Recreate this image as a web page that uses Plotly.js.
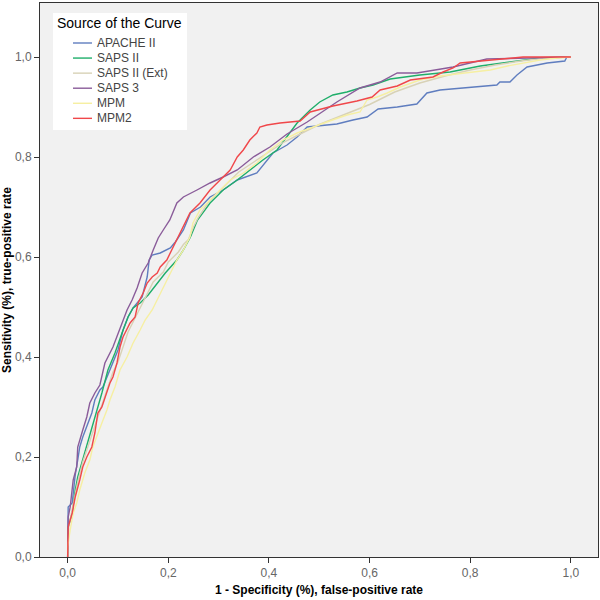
<!DOCTYPE html>
<html>
<head>
<meta charset="utf-8">
<script src="https://cdn.plot.ly/plotly-3.0.1.min.js"></script>
<style>html,body{margin:0;padding:0;background:#fff;}#chart{width:600px;height:600px;}</style>
</head>
<body>
<div id="chart"></div>
<script>
// Series names
const seriesNames = ["APACHE II", "SAPS II", "SAPS II (Ext)", "SAPS 3", "MPM", "MPM2"];
const seriesColors = ["#5f7dbf", "#1fae6a", "#d8d2b6", "#8a5c9a", "#f6efa2", "#f0474a"];
const legendTitle = "Source of the Curve";

// APACHE II
const apacheX = [0,0,0.001,0.009,0.015,0.020,0.024,0.030,0.038,0.048,0.054,0.064,0.070,0.084,0.100,0.110,0.120,0.130,0.148,0.158,0.162,0.168,0.184,0.204,0.214,0.230,0.244,0.264,0.283,0.309,0.337,0.376,0.408,0.436,0.456,0.476,0.535,0.567,0.595,0.617,0.655,0.694,0.704,0.714,0.740,0.806,0.853,0.859,0.879,0.893,0.913,0.953,0.988,0.992,1];
const apacheY = [0,0.034,0.100,0.108,0.164,0.194,0.220,0.240,0.260,0.288,0.314,0.334,0.340,0.374,0.414,0.454,0.480,0.498,0.520,0.560,0.594,0.604,0.608,0.618,0.630,0.654,0.688,0.700,0.720,0.734,0.754,0.768,0.808,0.824,0.840,0.860,0.866,0.874,0.880,0.896,0.900,0.906,0.918,0.928,0.934,0.940,0.944,0.950,0.950,0.964,0.980,0.988,0.992,1.0,1.0];

// SAPS II
const saps2X = [0,0.001,0.009,0.015,0.020,0.028,0.038,0.048,0.058,0.068,0.080,0.094,0.108,0.120,0.130,0.144,0.160,0.178,0.194,0.217,0.230,0.244,0.258,0.283,0.309,0.337,0.362,0.388,0.416,0.436,0.456,0.482,0.501,0.527,0.555,0.581,0.607,0.641,0.700,0.760,0.820,0.879,0.939,1];
const saps2Y = [0,0.06,0.088,0.134,0.16,0.188,0.22,0.254,0.294,0.328,0.374,0.408,0.448,0.48,0.498,0.508,0.524,0.548,0.568,0.594,0.614,0.64,0.674,0.708,0.734,0.754,0.774,0.794,0.814,0.84,0.868,0.894,0.91,0.924,0.93,0.938,0.944,0.956,0.964,0.97,0.982,0.99,0.998,1];

// SAPS II (Ext)
const saps2ExtX = [0,0.002,0.01,0.02,0.03,0.04,0.05,0.06,0.07,0.08,0.09,0.1,0.11,0.12,0.13,0.14,0.15,0.16,0.17,0.18,0.19,0.2,0.21,0.22,0.23,0.24,0.25,0.26,0.28,0.3,0.32,0.34,0.37,0.4,0.43,0.46,0.5,0.55,0.6,0.65,0.7,0.75,0.8,0.85,0.9,0.95,1];
const saps2ExtY = [0,0.06,0.1,0.15,0.19,0.22,0.25,0.28,0.31,0.34,0.37,0.39,0.42,0.45,0.47,0.49,0.51,0.53,0.55,0.56,0.57,0.59,0.6,0.61,0.625,0.635,0.66,0.68,0.71,0.73,0.75,0.77,0.79,0.81,0.83,0.845,0.865,0.885,0.905,0.93,0.948,0.962,0.974,0.984,0.992,0.998,1];

// SAPS 3
const saps3X = [0,0.001,0.005,0.011,0.018,0.020,0.030,0.038,0.044,0.054,0.064,0.074,0.090,0.108,0.118,0.128,0.138,0.148,0.160,0.170,0.180,0.190,0.203,0.217,0.230,0.257,0.283,0.309,0.337,0.369,0.402,0.436,0.476,0.535,0.581,0.621,0.655,0.694,0.766,0.833,0.913,1];
const saps3Y = [0,0.08,0.1,0.154,0.18,0.22,0.254,0.28,0.308,0.328,0.344,0.388,0.42,0.468,0.494,0.514,0.538,0.568,0.588,0.614,0.638,0.654,0.674,0.708,0.72,0.734,0.748,0.76,0.774,0.80,0.82,0.846,0.87,0.91,0.938,0.95,0.968,0.968,0.98,0.996,0.998,1];

// MPM
const mpmX = [0,0,0.005,0.011,0.018,0.024,0.034,0.044,0.050,0.058,0.068,0.078,0.084,0.094,0.104,0.118,0.130,0.144,0.154,0.168,0.178,0.188,0.197,0.207,0.217,0.230,0.243,0.249,0.263,0.283,0.303,0.323,0.349,0.376,0.402,0.428,0.456,0.482,0.515,0.555,0.581,0.595,0.615,0.635,0.661,0.700,0.740,0.806,0.840,0.874,0.905,0.939,0.973,1];
const mpmY = [0,0.02,0.054,0.088,0.108,0.134,0.168,0.194,0.22,0.24,0.268,0.294,0.314,0.34,0.374,0.4,0.428,0.454,0.474,0.494,0.514,0.534,0.554,0.574,0.594,0.614,0.64,0.668,0.694,0.714,0.734,0.754,0.768,0.788,0.814,0.834,0.848,0.858,0.87,0.884,0.89,0.914,0.92,0.928,0.94,0.954,0.962,0.97,0.974,0.982,0.988,0.994,0.998,1];

// MPM2
const mpm2X = [0,0,0.001,0.009,0.015,0.024,0.030,0.038,0.048,0.054,0.060,0.068,0.078,0.084,0.090,0.098,0.104,0.110,0.124,0.134,0.140,0.150,0.158,0.168,0.178,0.184,0.197,0.207,0.217,0.223,0.243,0.263,0.283,0.303,0.323,0.337,0.349,0.362,0.376,0.382,0.396,0.422,0.462,0.482,0.527,0.575,0.605,0.621,0.655,0.681,0.726,0.746,0.766,0.780,0.840,0.905,1];
const mpm2Y = [0,0.028,0.06,0.088,0.12,0.154,0.18,0.2,0.22,0.248,0.288,0.3,0.328,0.348,0.36,0.388,0.42,0.44,0.468,0.48,0.508,0.528,0.548,0.56,0.568,0.58,0.594,0.614,0.634,0.648,0.688,0.708,0.734,0.754,0.774,0.8,0.814,0.834,0.848,0.86,0.864,0.868,0.872,0.89,0.902,0.912,0.92,0.934,0.942,0.954,0.96,0.97,0.978,0.988,0.994,1,1];

// Axis ticks
const tickVals = [0, 0.2, 0.4, 0.6, 0.8, 1.0];
const tickText = ["0,0", "0,2", "0,4", "0,6", "0,8", "1,0"];

const xs = [apacheX, saps2X, saps2ExtX, saps3X, mpmX, mpm2X];
const ys = [apacheY, saps2Y, saps2ExtY, saps3Y, mpmY, mpm2Y];

const traces = seriesNames.map((name, i) => ({
  type: 'scatter',
  mode: 'lines',
  name: name,
  x: xs[i],
  y: ys[i],
  line: {color: seriesColors[i], width: 1.4},
  hoverinfo: 'skip'
}));

const FONT = 'Liberation Sans, Arial, sans-serif';

// Legend drawn in paper coordinates (compact SPSS-like spacing)
const LEG = {x0: 0.0233, x1: 0.2634, y0: 0.7708, y1: 0.9819,
             titleX: 0.026, titleY: 0.9639,
             lineX0: 0.0591, lineX1: 0.0932, textX: 0.0986,
             itemY0: 0.9278, itemStep: 0.0272};

const shapes = [{
  type: 'rect', xref: 'paper', yref: 'paper',
  x0: LEG.x0, x1: LEG.x1, y0: LEG.y0, y1: LEG.y1,
  fillcolor: '#ffffff', line: {width: 0}, layer: 'above'
}];
const annotations = [{
  xref: 'paper', yref: 'paper', x: LEG.titleX, y: LEG.titleY,
  xanchor: 'left', yanchor: 'middle', showarrow: false,
  text: legendTitle, font: {family: FONT, size: 14, color: '#000'}
}];
seriesNames.forEach((name, i) => {
  const yy = LEG.itemY0 - i * LEG.itemStep;
  shapes.push({
    type: 'line', xref: 'paper', yref: 'paper',
    x0: LEG.lineX0, x1: LEG.lineX1, y0: yy, y1: yy,
    line: {color: seriesColors[i], width: 1.4}, layer: 'above'
  });
  annotations.push({
    xref: 'paper', yref: 'paper', x: LEG.textX, y: yy,
    xanchor: 'left', yanchor: 'middle', showarrow: false,
    text: name, font: {family: FONT, size: 12, color: '#444'}
  });
});

const layout = {
  width: 600,
  height: 600,
  margin: {l: 40, r: 2, t: 3, b: 43},
  paper_bgcolor: '#ffffff',
  plot_bgcolor: '#f1f1f1',
  font: {family: FONT, size: 12, color: '#333'},
  showlegend: false,
  shapes: shapes,
  annotations: annotations,
  xaxis: {
    range: [-0.055, 1.054],
    tickvals: tickVals,
    ticktext: tickText,
    ticks: 'outside',
    ticklen: 5,
    tickcolor: '#333',
    tickfont: {family: FONT, size: 12, color: '#666'},
    showgrid: false,
    zeroline: false,
    showline: true,
    linecolor: '#333',
    linewidth: 1,
    mirror: true,
    title: {text: '1 - Specificity (%), false-positive rate', font: {family: FONT, size: 12, color: '#000', weight: 'bold'}, standoff: 6}
  },
  yaxis: {
    range: [0, 1.108],
    tickvals: tickVals,
    ticktext: tickText,
    ticks: 'outside',
    ticklen: 5,
    tickcolor: '#333',
    tickfont: {family: FONT, size: 12, color: '#666'},
    showgrid: false,
    zeroline: false,
    showline: true,
    linecolor: '#333',
    linewidth: 1,
    mirror: true,
    title: {text: 'Sensitivity (%), true-positive rate', font: {family: FONT, size: 12, color: '#000', weight: 'bold'}, standoff: 4}
  }
};

Plotly.newPlot('chart', traces, layout, {displayModeBar: false, staticPlot: true});
</script>
</body>
</html>
